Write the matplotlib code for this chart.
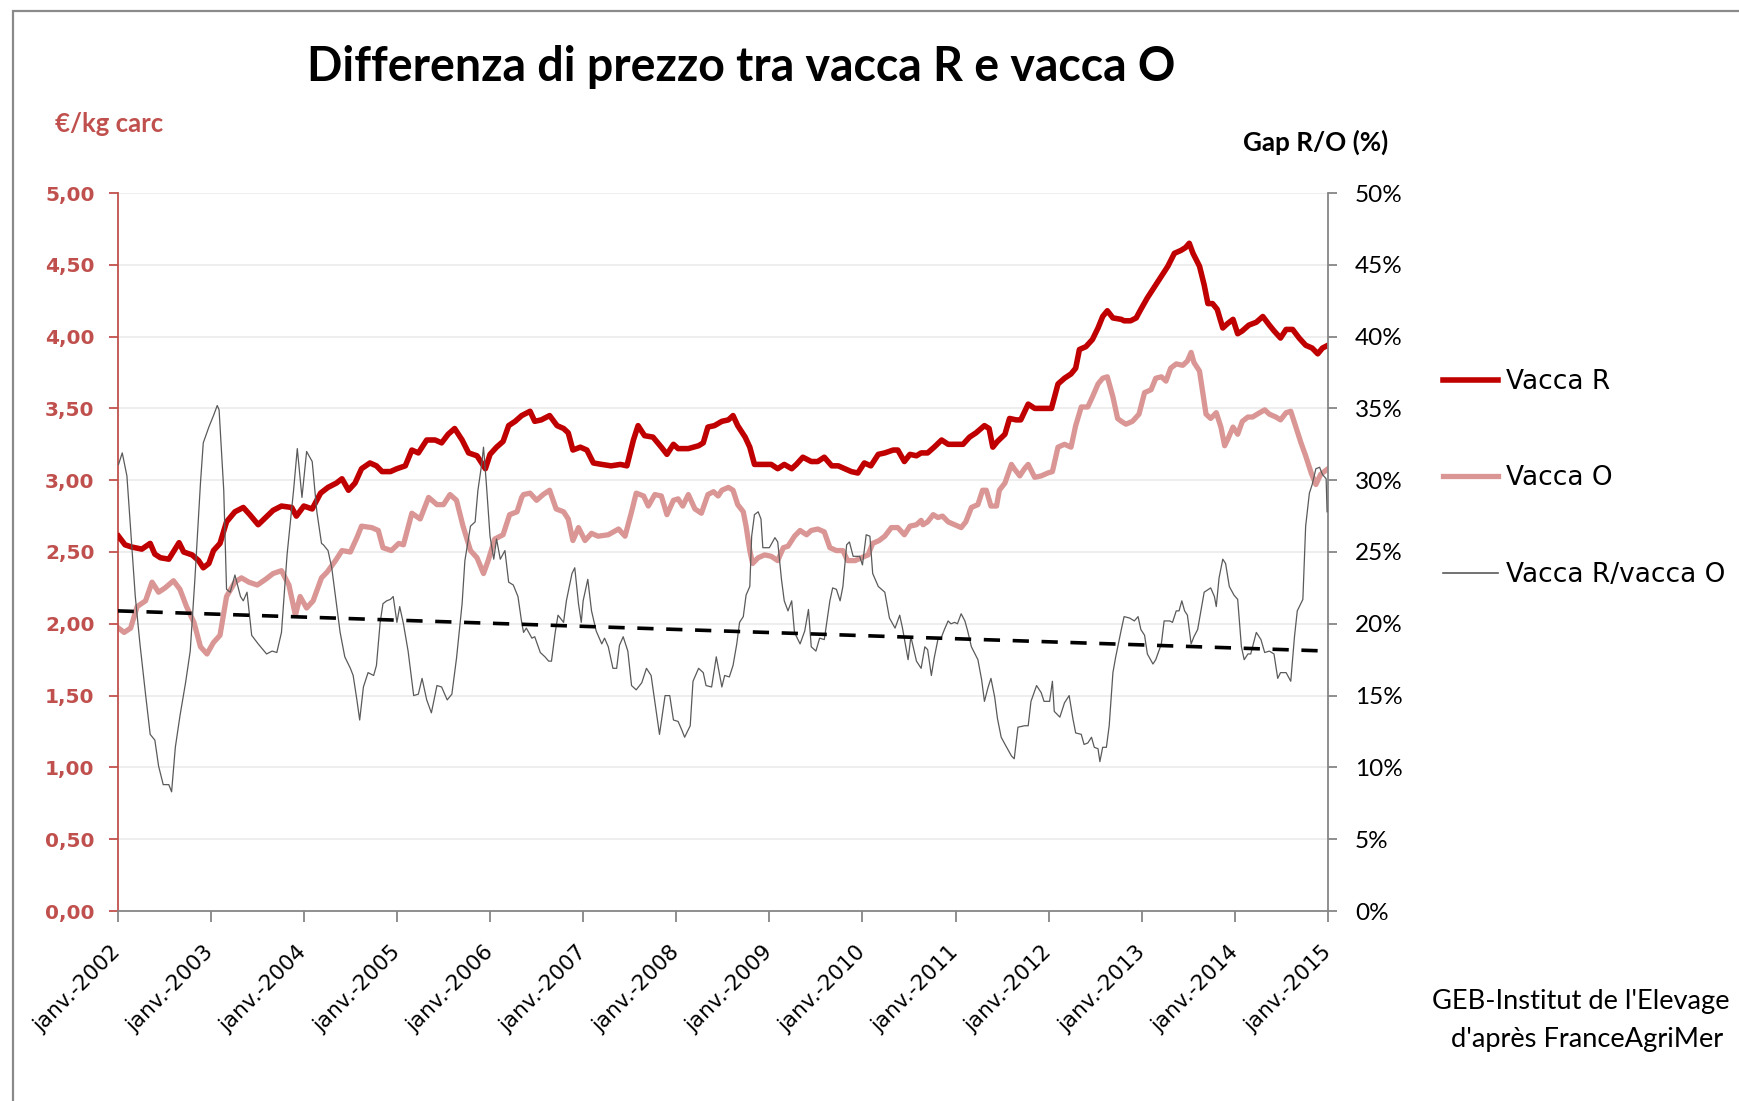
import matplotlib
matplotlib.use("Agg")
import matplotlib.pyplot as plt
import matplotlib.transforms as mtrans
from matplotlib.patches import Rectangle
from matplotlib.lines import Line2D

# ---------------- data ----------------
r_dates = [2002.01, 2002.08, 2002.15, 2002.26, 2002.35, 2002.40, 2002.46, 2002.55, 2002.66, 2002.71,
           2002.80, 2002.87, 2002.92, 2002.98, 2003.03, 2003.10, 2003.17, 2003.26, 2003.35, 2003.42,
           2003.51, 2003.59, 2003.67, 2003.76, 2003.87, 2003.92, 2004.00, 2004.09, 2004.18,
           2004.26, 2004.35, 2004.41, 2004.48, 2004.55, 2004.62, 2004.71, 2004.78, 2004.84, 2004.93,
           2005.00, 2005.09, 2005.16, 2005.23, 2005.32, 2005.41, 2005.48, 2005.55, 2005.62, 2005.70,
           2005.77, 2005.86, 2005.95, 2006.00, 2006.07, 2006.14, 2006.20, 2006.27, 2006.34,
           2006.43, 2006.48, 2006.55, 2006.64, 2006.72, 2006.79, 2006.84, 2006.89, 2006.97, 2007.04,
           2007.11, 2007.20, 2007.30, 2007.40, 2007.47, 2007.54, 2007.59, 2007.66, 2007.75, 2007.84,
           2007.90, 2007.97, 2008.02, 2008.13, 2008.24, 2008.29, 2008.34, 2008.41, 2008.49,
           2008.56, 2008.61, 2008.66, 2008.74, 2008.79, 2008.84, 2008.91, 2009.02, 2009.09, 2009.16,
           2009.24, 2009.29, 2009.36, 2009.45, 2009.52, 2009.59, 2009.67, 2009.74, 2009.81, 2009.88,
           2009.95, 2010.02, 2010.09, 2010.17, 2010.24, 2010.33, 2010.38, 2010.45, 2010.51, 2010.58,
           2010.63, 2010.70, 2010.77, 2010.85, 2010.92, 2011.01, 2011.08, 2011.15, 2011.22, 2011.31,
           2011.36, 2011.40, 2011.45, 2011.53, 2011.58, 2011.65, 2011.70, 2011.78, 2011.85, 2011.94,
           2012.03, 2012.10, 2012.17, 2012.24, 2012.29, 2012.33, 2012.40, 2012.47, 2012.53, 2012.58,
           2012.63, 2012.69, 2012.78, 2012.81, 2012.88, 2012.94, 2012.99, 2013.06, 2013.13, 2013.21,
           2013.28, 2013.35, 2013.42, 2013.47, 2013.51, 2013.55, 2013.62, 2013.67, 2013.71, 2013.76,
           2013.81, 2013.87, 2013.92, 2013.98, 2014.03, 2014.08, 2014.15, 2014.23, 2014.30, 2014.37,
           2014.42, 2014.49, 2014.55, 2014.62, 2014.69, 2014.76, 2014.83, 2014.89, 2014.94, 2015.00]
r_values = [2.61, 2.55, 2.535, 2.52, 2.56, 2.485, 2.46, 2.45, 2.565, 2.50,
            2.48, 2.44, 2.39, 2.42, 2.51, 2.56, 2.71, 2.78, 2.81, 2.76,
            2.69, 2.74, 2.79, 2.82, 2.81, 2.75, 2.82, 2.80, 2.91,
            2.95, 2.98, 3.01, 2.93, 2.98, 3.08, 3.12, 3.10, 3.06, 3.06,
            3.08, 3.10, 3.21, 3.19, 3.28, 3.28, 3.26, 3.32, 3.36, 3.28,
            3.19, 3.17, 3.08, 3.18, 3.23, 3.27, 3.38, 3.41, 3.45,
            3.48, 3.41, 3.42, 3.45, 3.38, 3.36, 3.33, 3.21, 3.23, 3.21,
            3.12, 3.11, 3.10, 3.11, 3.10, 3.28, 3.38, 3.31, 3.30, 3.23,
            3.18, 3.25, 3.22, 3.22, 3.24, 3.26, 3.37, 3.38, 3.41,
            3.42, 3.45, 3.38, 3.30, 3.23, 3.11, 3.11, 3.11, 3.08, 3.11,
            3.08, 3.11, 3.16, 3.13, 3.13, 3.16, 3.10, 3.10, 3.08, 3.06,
            3.05, 3.12, 3.10, 3.18, 3.19, 3.21, 3.21, 3.13, 3.18, 3.17,
            3.19, 3.19, 3.23, 3.28, 3.25, 3.25, 3.25, 3.30, 3.33, 3.38,
            3.36, 3.23, 3.27, 3.32, 3.43, 3.42, 3.42, 3.53, 3.50, 3.50,
            3.50, 3.67, 3.71, 3.74, 3.78, 3.91, 3.93, 3.98, 4.06, 4.14,
            4.18, 4.13, 4.12, 4.11, 4.11, 4.13, 4.19, 4.27, 4.34, 4.42,
            4.49, 4.58, 4.60, 4.62, 4.65, 4.58, 4.49, 4.36, 4.23, 4.23,
            4.19, 4.06, 4.09, 4.12, 4.02, 4.04, 4.08, 4.10, 4.14, 4.08,
            4.04, 3.99, 4.05, 4.05, 3.99, 3.94, 3.92, 3.88, 3.92, 3.94]

o_dates = [2002.01, 2002.07, 2002.14, 2002.21, 2002.30, 2002.37, 2002.44, 2002.51, 2002.60, 2002.67,
           2002.74, 2002.82, 2002.89, 2002.96, 2003.03, 2003.10, 2003.17, 2003.26, 2003.33, 2003.41,
           2003.50, 2003.59, 2003.67, 2003.76, 2003.84, 2003.91, 2003.96, 2004.03, 2004.10, 2004.19,
           2004.25, 2004.34, 2004.41, 2004.50, 2004.57, 2004.62, 2004.73, 2004.80, 2004.85, 2004.94,
           2005.02, 2005.07, 2005.16, 2005.25, 2005.34, 2005.43, 2005.50, 2005.57, 2005.64, 2005.71,
           2005.79, 2005.86, 2005.93, 2005.98, 2006.05, 2006.14, 2006.21, 2006.29, 2006.34,
           2006.36, 2006.43, 2006.50, 2006.57, 2006.64, 2006.71, 2006.79, 2006.84, 2006.89, 2006.95,
           2007.02, 2007.09, 2007.16, 2007.27, 2007.38, 2007.45, 2007.52, 2007.57, 2007.65, 2007.70,
           2007.77, 2007.84, 2007.90, 2007.97, 2008.02, 2008.07, 2008.13, 2008.20, 2008.27, 2008.34,
           2008.40, 2008.45, 2008.49, 2008.56, 2008.61, 2008.66, 2008.72, 2008.75, 2008.79, 2008.82,
           2008.88, 2008.95, 2009.02, 2009.09, 2009.15, 2009.20, 2009.27, 2009.33, 2009.40, 2009.45,
           2009.52, 2009.59, 2009.65, 2009.72, 2009.79, 2009.84, 2009.92, 2009.99, 2010.06, 2010.11,
           2010.18, 2010.24, 2010.31, 2010.38, 2010.45, 2010.51, 2010.58, 2010.63,
           2010.65, 2010.70, 2010.76, 2010.81, 2010.86, 2010.92, 2010.99, 2011.06, 2011.11, 2011.17,
           2011.24, 2011.29, 2011.33, 2011.38, 2011.44, 2011.47, 2011.53, 2011.60, 2011.63, 2011.69,
           2011.74, 2011.78, 2011.85, 2011.92, 2011.99, 2012.04, 2012.10, 2012.17, 2012.24, 2012.29,
           2012.35, 2012.42, 2012.47, 2012.53, 2012.58, 2012.63, 2012.69, 2012.74, 2012.78,
           2012.83, 2012.90, 2012.97, 2013.03, 2013.10, 2013.15, 2013.21, 2013.26, 2013.31, 2013.37,
           2013.44, 2013.49, 2013.53, 2013.56, 2013.62, 2013.65, 2013.69, 2013.74, 2013.80, 2013.85,
           2013.89, 2013.92, 2013.98, 2014.03, 2014.08, 2014.14, 2014.19, 2014.24, 2014.32, 2014.37,
           2014.44, 2014.49, 2014.55, 2014.60, 2014.65, 2014.71, 2014.76, 2014.82, 2014.87, 2014.92,
           2015.00]
o_values = [1.97, 1.94, 1.97, 2.12, 2.16, 2.29, 2.22, 2.25, 2.30, 2.24,
            2.12, 2.01, 1.84, 1.79, 1.87, 1.92, 2.19, 2.29, 2.32, 2.29,
            2.27, 2.31, 2.35, 2.37, 2.27, 2.06, 2.19, 2.11, 2.16, 2.32,
            2.36, 2.44, 2.51, 2.50, 2.60, 2.68, 2.67, 2.65, 2.53, 2.51,
            2.56, 2.55, 2.77, 2.73, 2.88, 2.83, 2.83, 2.90, 2.86, 2.68,
            2.51, 2.46, 2.35, 2.44, 2.59, 2.62, 2.76, 2.78, 2.88,
            2.90, 2.91, 2.86, 2.90, 2.93, 2.80, 2.78, 2.73, 2.58, 2.67,
            2.58, 2.63, 2.61, 2.62, 2.66, 2.61, 2.78, 2.91, 2.89, 2.82,
            2.90, 2.89, 2.76, 2.86, 2.87, 2.82, 2.90, 2.80, 2.77, 2.90,
            2.92, 2.89, 2.93, 2.95, 2.93, 2.83, 2.78, 2.68, 2.51, 2.42,
            2.46, 2.48, 2.47, 2.44, 2.53, 2.54, 2.61, 2.65, 2.62, 2.65,
            2.66, 2.64, 2.53, 2.51, 2.51, 2.44, 2.44, 2.46, 2.48, 2.56,
            2.58, 2.61, 2.67, 2.67, 2.62, 2.68, 2.69, 2.72,
            2.69, 2.71, 2.76, 2.74, 2.75, 2.71, 2.69, 2.67, 2.71, 2.81,
            2.83, 2.93, 2.93, 2.82, 2.82, 2.93, 2.98, 3.11, 3.08, 3.03,
            3.08, 3.11, 3.02, 3.03, 3.05, 3.06, 3.23, 3.25, 3.23, 3.38,
            3.51, 3.51, 3.58, 3.67, 3.71, 3.72, 3.58, 3.43, 3.41,
            3.39, 3.41, 3.46, 3.61, 3.63, 3.71, 3.72, 3.69, 3.78, 3.81,
            3.80, 3.83, 3.89, 3.82, 3.76, 3.63, 3.46, 3.43, 3.47, 3.37,
            3.24, 3.28, 3.37, 3.32, 3.41, 3.44, 3.44, 3.46, 3.49, 3.46,
            3.44, 3.42, 3.47, 3.48, 3.38, 3.26, 3.17, 3.05, 2.97, 3.04,
            3.08]

gap_dates = [2002.01, 2002.05, 2002.10, 2002.15, 2002.19, 2002.24, 2002.30, 2002.35, 2002.40, 2002.44,
             2002.49, 2002.55, 2002.58, 2002.62, 2002.67, 2002.73, 2002.78, 2002.83, 2002.89, 2002.92,
             2002.98, 2003.03, 2003.07, 2003.09, 2003.14, 2003.17, 2003.21, 2003.26, 2003.32, 2003.35,
             2003.39, 2003.44, 2003.51, 2003.60, 2003.66, 2003.71, 2003.76, 2003.82, 2003.89, 2003.93,
             2003.98, 2004.03, 2004.09, 2004.14, 2004.19,
             2004.21, 2004.26, 2004.30, 2004.34, 2004.39, 2004.44, 2004.50, 2004.53, 2004.57, 2004.60,
             2004.64, 2004.69, 2004.75, 2004.78, 2004.82, 2004.85, 2004.89, 2004.93, 2004.96, 2005.00,
             2005.03, 2005.07, 2005.12, 2005.18, 2005.23, 2005.27, 2005.32, 2005.37, 2005.43, 2005.48,
             2005.54, 2005.59, 2005.64, 2005.70, 2005.73, 2005.79, 2005.84, 2005.87, 2005.91, 2005.93,
             2005.96, 2006.00, 2006.04, 2006.07, 2006.11, 2006.16, 2006.20, 2006.25, 2006.30, 2006.34,
             2006.36, 2006.39, 2006.45, 2006.48, 2006.54, 2006.59, 2006.63, 2006.66, 2006.70, 2006.73,
             2006.79, 2006.82, 2006.88, 2006.91, 2006.95, 2006.98, 2007.00, 2007.05, 2007.09, 2007.14,
             2007.20, 2007.23, 2007.27, 2007.32, 2007.36, 2007.39, 2007.43, 2007.48, 2007.52, 2007.57,
             2007.63, 2007.68, 2007.73, 2007.77, 2007.82, 2007.88, 2007.93, 2007.97, 2008.02, 2008.06,
             2008.09, 2008.15, 2008.18, 2008.24, 2008.29, 2008.32, 2008.38, 2008.43, 2008.49,
             2008.52, 2008.57, 2008.61, 2008.65, 2008.68, 2008.72, 2008.75, 2008.79, 2008.81, 2008.84,
             2008.88, 2008.91, 2008.93, 2009.00, 2009.06, 2009.09, 2009.13, 2009.16, 2009.20, 2009.24,
             2009.27, 2009.33, 2009.38, 2009.42, 2009.45, 2009.50, 2009.54, 2009.59, 2009.65, 2009.68,
             2009.72, 2009.76, 2009.79, 2009.83, 2009.86, 2009.90, 2009.97, 2010.00, 2010.04, 2010.08,
             2010.11, 2010.17, 2010.24, 2010.29, 2010.35, 2010.40, 2010.43, 2010.49, 2010.52, 2010.58,
             2010.63,
             2010.67, 2010.70, 2010.74, 2010.77, 2010.81, 2010.85, 2010.88, 2010.92, 2010.95, 2010.99,
             2011.02, 2011.06, 2011.10, 2011.13, 2011.17, 2011.24, 2011.28, 2011.31, 2011.35, 2011.38,
             2011.42, 2011.45, 2011.49, 2011.54, 2011.60, 2011.63, 2011.67, 2011.74, 2011.78, 2011.81,
             2011.87, 2011.92, 2011.95, 2012.01, 2012.04, 2012.06, 2012.12, 2012.17, 2012.22, 2012.26,
             2012.29, 2012.35, 2012.38, 2012.42, 2012.46, 2012.49, 2012.53, 2012.55, 2012.58, 2012.62,
             2012.65, 2012.69, 2012.72, 2012.78,
             2012.81, 2012.87, 2012.92, 2012.96, 2012.99, 2013.03, 2013.06, 2013.12, 2013.15, 2013.21,
             2013.24, 2013.30, 2013.33, 2013.37, 2013.40, 2013.43, 2013.46, 2013.49, 2013.53, 2013.56,
             2013.60, 2013.64, 2013.67, 2013.74, 2013.78, 2013.80, 2013.83, 2013.87, 2013.90, 2013.94,
             2013.99, 2014.03, 2014.07, 2014.10, 2014.14, 2014.17, 2014.23, 2014.28, 2014.32, 2014.37,
             2014.42, 2014.46, 2014.49, 2014.55, 2014.60, 2014.64, 2014.67, 2014.73, 2014.76, 2014.80,
             2014.83, 2014.87, 2014.91, 2014.94, 2014.98, 2014.99]
gap_pct = [31.1, 31.9, 30.3, 25.6, 21.9, 18.6, 15.1, 12.3, 11.9, 10.1,
           8.8, 8.8, 8.3, 11.4, 13.6, 15.9, 18.1, 23.1, 29.8, 32.6,
           33.7, 34.5, 35.2, 34.9, 29.3, 22.4, 22.2, 23.4, 21.9, 21.6,
           22.2, 19.2, 18.6, 17.9, 18.1, 18.0, 19.4, 24.8, 29.3, 32.2,
           28.8, 32.0, 31.3, 27.8, 25.6,
           25.5, 25.1, 23.9, 21.9, 19.4, 17.7, 16.9, 16.4, 14.7, 13.3,
           15.6, 16.6, 16.4, 17.1, 20.1, 21.4, 21.6, 21.7, 21.9, 20.1,
           21.2, 20.0, 18.1, 15.0, 15.1, 16.2, 14.7, 13.8, 15.7, 15.6,
           14.7, 15.1, 17.6, 21.4, 24.4, 26.8, 27.1, 29.3, 31.1, 32.3,
           29.8, 26.1, 24.5, 25.9, 24.5, 25.1, 22.9, 22.7, 21.9, 20.1,
           19.4, 19.7, 19.0, 19.1, 18.0, 17.7, 17.4, 17.4, 19.4, 20.6,
           20.1, 21.6, 23.5, 23.9, 21.4, 20.1, 21.6, 23.1, 20.9, 19.5,
           18.6, 19.0, 18.4, 16.9, 16.9, 18.5, 19.1, 18.1, 15.7, 15.4,
           15.9, 16.9, 16.4, 14.6, 12.3, 15.0, 15.0, 13.3, 13.2, 12.6,
           12.1, 12.9, 16.0, 16.9, 16.6, 15.7, 15.6, 17.7, 15.6,
           16.4, 16.3, 17.1, 18.6, 20.1, 20.5, 22.0, 22.6, 26.1, 27.6,
           27.8, 27.3, 25.3, 25.3, 26.0, 25.7, 23.1, 21.6, 20.9, 21.6,
           19.4, 18.6, 19.5, 21.0, 18.4, 18.1, 19.0, 18.9, 21.6, 22.5,
           22.4, 21.6, 22.6, 25.5, 25.7, 24.7, 24.7, 24.1, 26.2, 26.1,
           23.5, 22.6, 22.2, 20.4, 19.7, 20.6, 19.7, 17.5, 19.1, 17.4,
           16.9,
           18.4, 18.2, 16.4, 17.6, 18.9, 19.1, 19.6, 20.2, 20.0, 20.1,
           20.0, 20.7, 20.2, 19.5, 18.4, 17.5, 16.1, 14.6, 15.6, 16.2,
           14.9, 13.4, 12.1, 11.5, 10.8, 10.6, 12.8, 12.9, 12.9, 14.6,
           15.7, 15.2, 14.6, 14.6, 16.0, 13.9, 13.5, 14.5, 15.0, 13.4,
           12.4, 12.3, 11.6, 11.7, 12.1, 11.4, 11.3, 10.4, 11.4, 11.4,
           12.9, 16.6, 17.7, 19.6,
           20.5, 20.4, 20.2, 20.5, 19.6, 19.2, 17.9, 17.2, 17.5, 18.6,
           20.2, 20.2, 20.1, 20.9, 20.9, 21.6, 20.9, 20.6, 18.6, 19.1,
           19.6, 21.1, 22.2, 22.5, 21.9, 21.2, 23.2, 24.5, 24.2, 22.6,
           22.0, 21.7, 18.4, 17.5, 17.9, 17.9, 19.4, 18.9, 18.0, 18.1,
           17.9, 16.2, 16.6, 16.6, 16.0, 19.1, 20.9, 21.7, 26.8, 29.1,
           29.7, 30.8, 30.9, 30.4, 30.1, 27.8]

trend_dates = [2002.0, 2015.0]
trend_pct = [20.9, 18.1]

years = list(range(2002, 2016))
xtick_labels = [f"janv.-{y}" for y in years]
left_ticks = [0.0, 0.5, 1.0, 1.5, 2.0, 2.5, 3.0, 3.5, 4.0, 4.5, 5.0]
left_labels = [f"{v:.2f}".replace(".", ",") for v in left_ticks]
right_ticks = [0, 5, 10, 15, 20, 25, 30, 35, 40, 45, 50]
right_labels = [f"{v}%" for v in right_ticks]

title = "Differenza di prezzo tra vacca R e vacca O"
series_labels = ["Vacca R", "Vacca O", "Vacca R/vacca O"]

# ---------------- styles ----------------
C_R = "#C00000"
C_O = "#D99694"
C_GAP = "#5A5A5A"
C_AXRED = "#C0504D"
C_GRAY = "#868686"
C_GRID = "#EDEDED"

W, H = 1740, 1101
fig = plt.figure(figsize=(W / 100, H / 100), dpi=100)
fig.patch.set_facecolor("white")

L, R_, T, B = 117.6, 1328, 193, 911
ax = fig.add_axes([L / W, 1 - B / H, (R_ - L) / W, (B - T) / H])
ax2 = ax.twinx()

ax.plot(r_dates, r_values, color=C_R, lw=4.0, solid_joinstyle="round", zorder=3)
ax.plot(o_dates, o_values, color=C_O, lw=3.8, solid_joinstyle="round", zorder=2)
ax2.plot(gap_dates, gap_pct, color=C_GAP, lw=0.9, zorder=3)
ax2.plot(trend_dates, trend_pct, color="black", lw=2.6, dashes=(4.5, 3.5), zorder=4)

ax.set_xlim(2002, 2015)
ax.set_ylim(0, 5)
ax2.set_ylim(0, 50)

ax.set_yticks(left_ticks)
ax.set_yticklabels(left_labels)
ax2.set_yticks(right_ticks)
ax2.set_yticklabels(right_labels)
ax.set_xticks(years)
ax.set_xticklabels(xtick_labels, rotation=45, ha="right", va="center",
                   rotation_mode="anchor", fontsize=15.5, family="DejaVu Sans")
shift = mtrans.ScaledTranslation(8 / 100, 0, fig.dpi_scale_trans)
for lab in ax.get_xticklabels():
    lab.set_transform(lab.get_transform() + shift)

for yv in left_ticks[1:]:
    ax.axhline(yv, color=C_GRID, lw=1.3, zorder=0)

ax.spines["top"].set_visible(False)
ax2.spines["top"].set_visible(False)
ax.spines["left"].set_color(C_AXRED)
ax.spines["left"].set_linewidth(1.3)
ax.spines["bottom"].set_color(C_GRAY)
ax.spines["bottom"].set_linewidth(1.3)
ax2.spines["right"].set_color(C_GRAY)
ax2.spines["right"].set_linewidth(1.3)
ax2.spines["left"].set_visible(False)
ax2.spines["bottom"].set_visible(False)
ax.spines["right"].set_visible(False)

ax.tick_params(axis="x", direction="out", length=8, width=1.3, color=C_GRAY, pad=19)
ax.tick_params(axis="y", direction="out", length=6.5, width=1.3, color=C_AXRED,
               labelcolor=C_AXRED, labelsize=14.5, pad=10)
for lab in ax.get_yticklabels():
    lab.set_fontweight("bold")
    lab.set_family("DejaVu Sans")
ax2.tick_params(axis="y", direction="out", length=6.5, width=1.3, color=C_GRAY,
                labelsize=17.5, pad=13)
for lab in ax2.get_yticklabels():
    lab.set_family("Lato")

# texts
fig.text(741 / W, 1 - 67 / H, title, ha="center", va="center",
         fontsize=33.5, fontweight="bold", family="Lato")
fig.text(55 / W, 1 - 124 / H, "€/kg carc", ha="left", va="center",
         fontsize=18.5, fontweight="bold", family="Lato", color=C_AXRED)
fig.text(1243 / W, 1 - 142 / H, "Gap R/O (%)", ha="left", va="center",
         fontsize=18.8, fontweight="bold", family="Lato")
fig.text(1432 / W, 1 - 1002 / H, "GEB-Institut de l'Elevage", ha="left", va="center",
         fontsize=19.6, family="Lato")
fig.text(1451 / W, 1 - 1040 / H, "d'après FranceAgriMer", ha="left", va="center",
         fontsize=19.6, family="Lato")

# legend
handles = [Line2D([], [], color=C_R, lw=4.0),
           Line2D([], [], color=C_O, lw=3.8),
           Line2D([], [], color=C_GAP, lw=1.2)]
fig.legend(handles, series_labels, loc="upper left",
           bbox_to_anchor=(1443 / W, 1 - 369 / H), frameon=False,
           prop={"family": "DejaVu Sans", "size": 19}, handlelength=2.08,
           handletextpad=0.3, labelspacing=2.67, borderpad=0, borderaxespad=0)

# outer frame of the chart area
fig.add_artist(Rectangle((13 / W, -0.05), 1.2, 1 - 11 / H + 0.05, fill=False,
                         edgecolor="#8A8A8A", lw=1.6, transform=fig.transFigure,
                         clip_on=False))

fig.savefig("out.png", dpi=100, facecolor="white")
